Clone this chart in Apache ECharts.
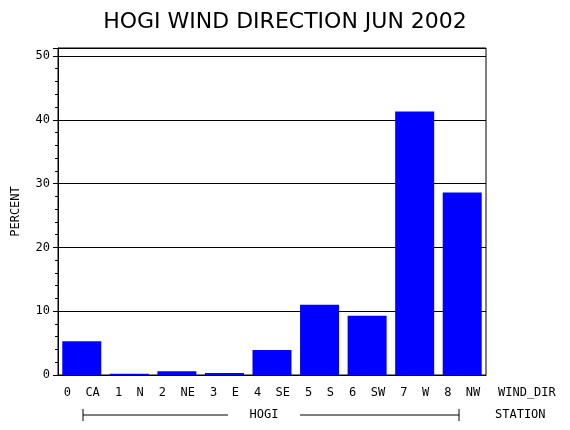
<!DOCTYPE html><html><head><meta charset="utf-8">
<script src="https://cdn.jsdelivr.net/npm/echarts@6/dist/echarts.min.js"></script>
<style>body{margin:0}#c{width:570px;height:430px}</style></head><body><div id="c"></div>
<script>
const categories = ['0 CA','1 N','2 NE','3 E','4 SE','5 S','6 SW','7 W','8 NW'];
const percent = [5.3,0.2,0.6,0.3,3.9,11.0,9.3,41.3,28.6];
const station = 'HOGI';
const F = 'DejaVu Sans Mono';
const ch = echarts.init(document.getElementById('c'));
ch.setOption({
  animation:false,
  title:{text:'HOGI WIND DIRECTION JUN 2002',left:'center',top:6,textStyle:{fontFamily:'DejaVu Sans',fontWeight:'normal',fontSize:22,color:'#000'}},
  grid:{left:58,right:84,top:48,bottom:55,show:true,borderColor:'#000',borderWidth:1},
  xAxis:{type:'category',data:categories,axisLine:{lineStyle:{color:'#000'}},axisTick:{show:false},
    axisLabel:{color:'#000',fontFamily:F,fontSize:12,margin:12,formatter:v=>v.replace(' ','  ')},
    name:'WIND_DIR',nameLocation:'end',nameGap:12,nameTextStyle:{color:'#000',fontFamily:F,fontSize:12,verticalAlign:'top',padding:[12,0,0,0]}},
  yAxis:{type:'value',min:0,max:51.25,interval:10,name:'PERCENT',nameLocation:'middle',nameGap:36,
    nameTextStyle:{color:'#000',fontFamily:F,fontSize:12},
    axisLine:{show:true,lineStyle:{color:'#000'}},axisTick:{show:true,length:5,lineStyle:{color:'#000'}},
    minorTick:{show:true,splitNumber:5,length:3,lineStyle:{color:'#000'}},
    axisLabel:{color:'#000',fontFamily:F,fontSize:12,showMaxLabel:false,formatter:v=>v%10===0?v:''},
    splitLine:{show:true,lineStyle:{color:'#000'}}},
  series:[{type:'bar',data:percent,barCategoryGap:'18%',itemStyle:{color:'#0000ff'}}],
  graphic:[
    {type:'line',shape:{x1:83,y1:415,x2:228,y2:415},style:{stroke:'#000'}},
    {type:'line',shape:{x1:300,y1:415,x2:459,y2:415},style:{stroke:'#000'}},
    {type:'line',shape:{x1:83,y1:409,x2:83,y2:421},style:{stroke:'#000'}},
    {type:'line',shape:{x1:459,y1:409,x2:459,y2:421},style:{stroke:'#000'}},
    {type:'text',x:264,y:415,style:{text:station,fontFamily:F,fontSize:12,fill:'#000',align:'center',verticalAlign:'middle'}},
    {type:'text',x:495,y:415,style:{text:'STATION',fontFamily:F,fontSize:12,fill:'#000',verticalAlign:'middle'}}
  ]
});
</script></body></html>
